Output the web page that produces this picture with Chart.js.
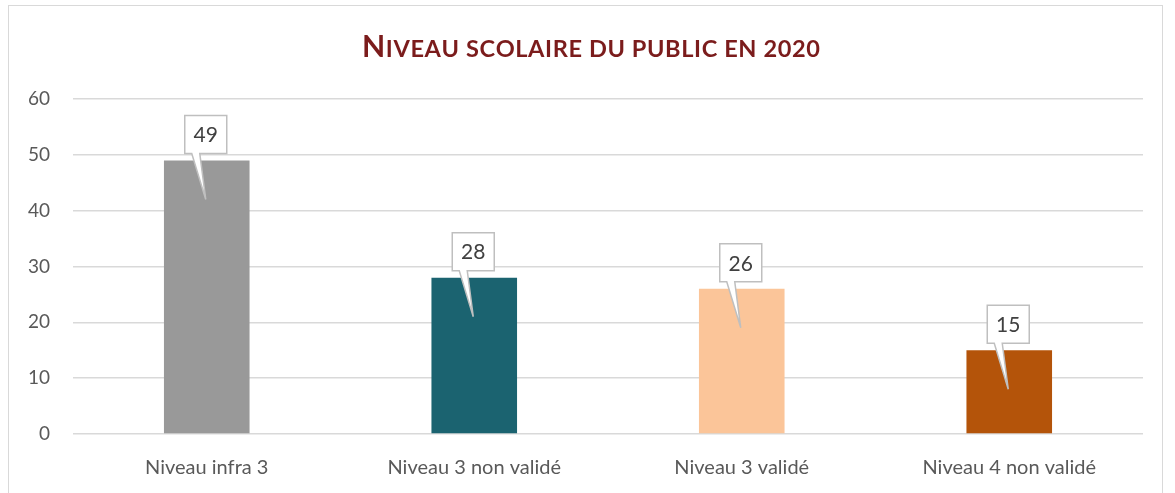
<!DOCTYPE html>
<html>
<head>
<meta charset="utf-8">
<script src="https://cdn.jsdelivr.net/npm/chart.js@4.4.1/dist/chart.umd.min.js"></script>
<style>
  html, body { margin: 0; padding: 0; background: #fff; }
  #wrap { position: relative; width: 1175px; height: 493px; }
  #frame { position: absolute; left: 8px; top: 5px; width: 1155px; height: 500px; border: 1px solid #d9d9d9; box-sizing: border-box; }
  canvas { position: absolute; left: 0; top: 0; }
</style>
</head>
<body>
<div id="wrap">
  <div id="frame"></div>
  <canvas id="chart" width="1175" height="493"></canvas>
</div>
<script>
const categories = ['Niveau infra 3', 'Niveau 3 non validé', 'Niveau 3 validé', 'Niveau 4 non validé'];
const values = [49, 28, 26, 15];
const barColors = ['#999999', '#1b6370', '#fbc599', '#b4540a'];
const yTicks = [0, 10, 20, 30, 40, 50, 60];
const titleText = 'Niveau scolaire du public en 2020';

// title drawn in small caps (canvas has no font-variant support)
const smallCapsTitle = {
    id: 'smallCapsTitle',
    afterDraw(chart) {
        const ctx = chart.ctx;
        const parts = [];
        for (const ch of titleText) {
            const upper = ch === ch.toUpperCase() && ch !== ch.toLowerCase();
            parts.push({ t: ch.toUpperCase(), big: upper });
        }
        const measure = (size) => {
            let total = 0;
            parts.forEach(p => {
                p.f = 'bold ' + (p.big ? size * 1.28 : size).toFixed(2) + 'px Lato';
                ctx.font = p.f;
                p.w = ctx.measureText(p.t).width;
                total += p.w;
            });
            return total;
        };
        ctx.save();
        let size = 19;
        const target = 458 - 0.6 * (parts.length - 1);
        size = size * target / measure(size);
        measure(size);
        let x = 591 - 229;
        ctx.fillStyle = '#7b1c1c';
        ctx.textBaseline = 'alphabetic';
        parts.forEach(p => {
            ctx.font = p.f;
            ctx.fillText(p.t, x, 57);
            x += p.w + 0.6;
        });
        ctx.restore();
    }
};

// Excel-like callout boxes above each bar
const calloutPlugin = {
    id: 'callouts',
    afterDatasetsDraw(chart) {
        const ctx = chart.ctx;
        const meta = chart.getDatasetMeta(0);
        meta.data.forEach((bar, i) => {
            const x = bar.x;
            const top = bar.y;
            const w = 42, h = 38;
            const left = x - w / 2 - 1;
            const bottom = top - 7;
            const boxTop = bottom - h;
            ctx.save();
            ctx.beginPath();
            ctx.moveTo(left, boxTop);
            ctx.lineTo(left + w, boxTop);
            ctx.lineTo(left + w, bottom);
            ctx.lineTo(x - 7, bottom);
            ctx.lineTo(x - 1, top + 39);
            ctx.lineTo(x - 15, bottom);
            ctx.lineTo(left, bottom);
            ctx.closePath();
            ctx.fillStyle = '#ffffff';
            ctx.fill();
            ctx.strokeStyle = '#bfbfbf';
            ctx.lineWidth = 1.5;
            ctx.stroke();
            ctx.fillStyle = '#404040';
            ctx.font = '21px Lato';
            ctx.textAlign = 'center';
            ctx.textBaseline = 'middle';
            ctx.fillText(String(values[i]), left + w / 2, boxTop + h / 2 + 1);
            ctx.restore();
        });
    }
};

const ctx = document.getElementById('chart').getContext('2d');
new Chart(ctx, {
    type: 'bar',
    data: {
        labels: categories,
        datasets: [{
            data: values,
            backgroundColor: barColors,
            barPercentage: 0.64,
            categoryPercentage: 0.5
        }]
    },
    options: {
        responsive: false,
        animation: false,
        layout: { padding: { left: 0, right: 32, top: 99, bottom: 0 } },
        plugins: {
            legend: { display: false },
            tooltip: { enabled: false },
            title: { display: false }
        },
        scales: {
            x: {
                grid: { display: false, drawTicks: false },
                border: { display: false },
                afterFit: (scale) => { scale.height = 59; },
                ticks: { color: '#595959', font: { family: 'Lato', size: 20 }, padding: 22 }
            },
            y: {
                min: 0,
                max: 60,
                afterBuildTicks: (scale) => { scale.ticks = yTicks.map(v => ({ value: v })); },
                afterFit: (scale) => { scale.width = 73; },
                grid: { color: '#d9d9d9', lineWidth: 1.5, drawTicks: false },
                border: { display: false },
                ticks: { color: '#595959', font: { family: 'Lato', size: 19 }, padding: 23 }
            }
        }
    },
    plugins: [calloutPlugin, smallCapsTitle]
});
</script>
</body>
</html>
